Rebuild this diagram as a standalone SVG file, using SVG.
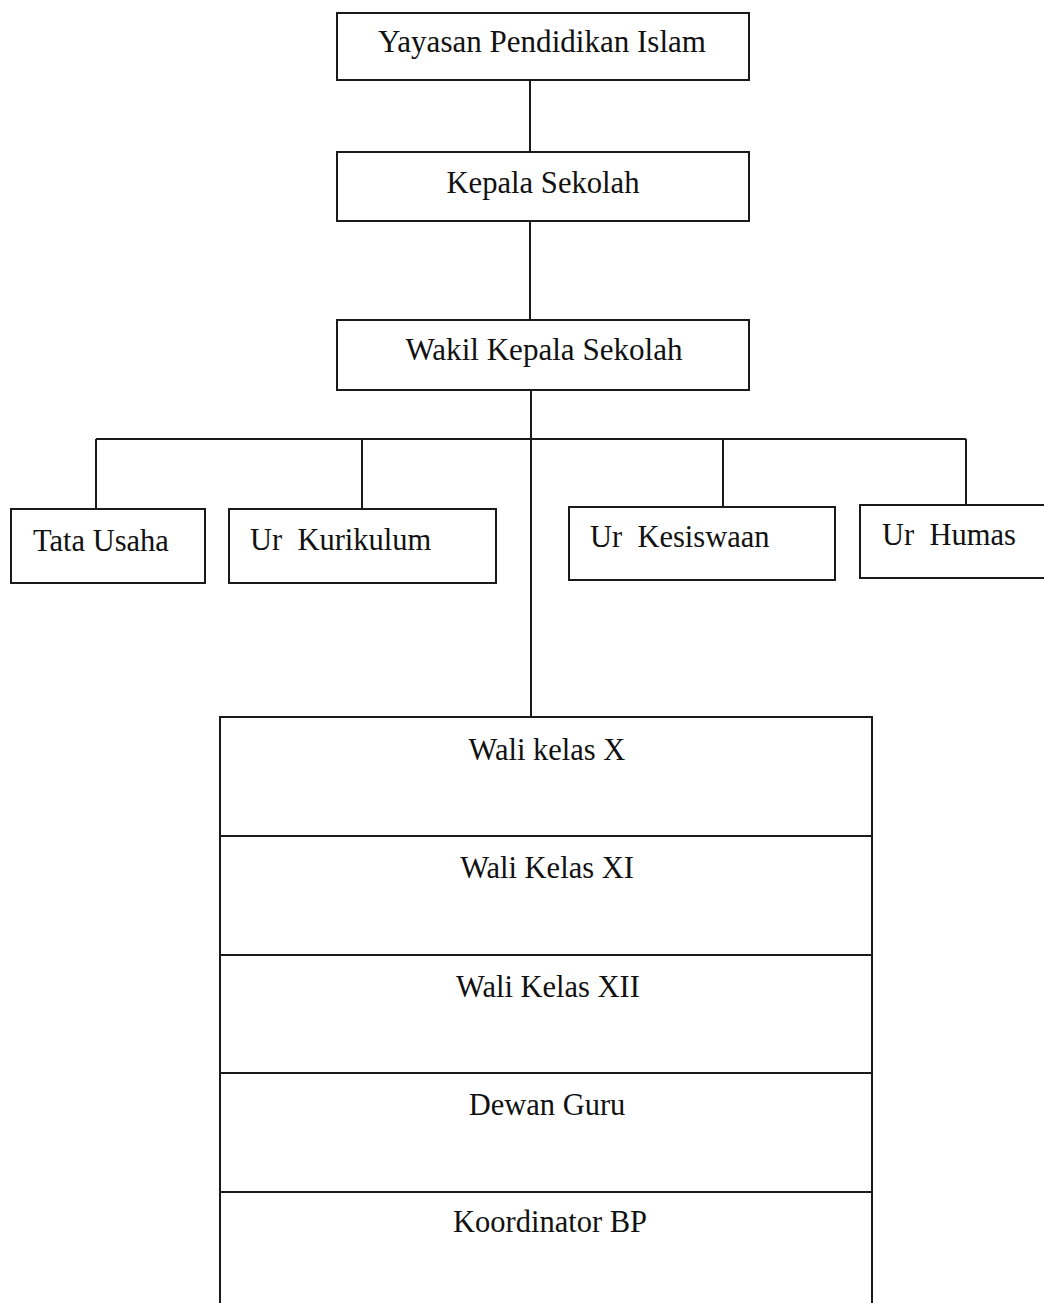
<svg xmlns="http://www.w3.org/2000/svg" width="1044" height="1303" viewBox="0 0 1044 1303">
<style>
.box{fill:#fff;stroke:#1a1a1a;stroke-width:2}
.ln{fill:none;stroke:#1a1a1a;stroke-width:2}
text{font-family:"Liberation Serif","Times New Roman",serif;fill:#111;font-size:30.5px}
.c{text-anchor:middle}
.l{text-anchor:start;white-space:pre}
</style>
<rect width="1044" height="1303" fill="#fff"/>
<g id="connectors">
<path class="ln" d="M530 80V152M530 221V320M531 390V717M96 439H966M96 439V509M362 439V509M723 439V507M966 439V505"/>
</g>
<g id="yayasan"><rect class="box" x="337" y="13" width="412" height="67"/><text class="c" x="542" y="52" font-size="26" textLength="328" lengthAdjust="spacingAndGlyphs">Yayasan Pendidikan Islam</text></g>
<g id="kepala"><rect class="box" x="337" y="152" width="412" height="69"/><text class="c" x="543" y="193" font-size="29" textLength="193" lengthAdjust="spacingAndGlyphs">Kepala Sekolah</text></g>
<g id="wakil"><rect class="box" x="337" y="320" width="412" height="70"/><text class="c" x="544" y="360" font-size="29" textLength="277" lengthAdjust="spacingAndGlyphs">Wakil Kepala Sekolah</text></g>
<g id="tata-usaha"><rect class="box" x="11" y="509" width="194" height="74"/><text class="l" x="33" y="551">Tata Usaha</text></g>
<g id="ur-kurikulum"><rect class="box" x="229" y="509" width="267" height="74"/><text class="l" x="250" y="550">Ur  Kurikulum</text></g>
<g id="ur-kesiswaan"><rect class="box" x="569" y="507" width="266" height="73"/><text class="l" x="590" y="547">Ur  Kesiswaan</text></g>
<g id="ur-humas"><rect class="box" x="860" y="505" width="200" height="73"/><text class="l" x="882" y="545">Ur  Humas</text></g>
<g id="wali-x"><rect class="box" x="220" y="717" width="652" height="119"/><text class="c" x="547" y="760">Wali kelas X</text></g>
<g id="wali-xi"><rect class="box" x="220" y="836" width="652" height="119"/><text class="c" x="547" y="878">Wali Kelas XI</text></g>
<g id="wali-xii"><rect class="box" x="220" y="955" width="652" height="118"/><text class="c" x="548" y="997">Wali Kelas XII</text></g>
<g id="dewan-guru"><rect class="box" x="220" y="1073" width="652" height="119"/><text class="c" x="547" y="1115">Dewan Guru</text></g>
<g id="koordinator-bp"><rect class="box" x="220" y="1192" width="652" height="130"/><text class="c" x="550" y="1232">Koordinator BP</text></g>
</svg>
